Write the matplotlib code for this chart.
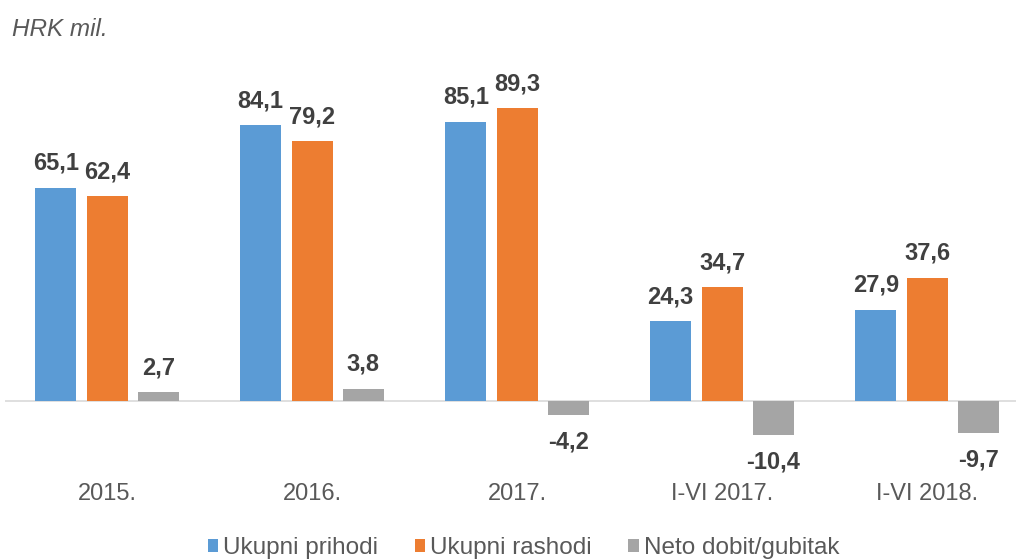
import numpy as np
import matplotlib.pyplot as plt

plt.rcParams['font.family'] = ['Liberation Sans', 'DejaVu Sans']

# podaci
kategorije = ["2015.", "2016.", "2017.", "I-VI 2017.", "I-VI 2018."]
prihodi = [65.1, 84.1, 85.1, 24.3, 27.9]
rashodi = [62.4, 79.2, 89.3, 34.7, 37.6]
neto = [2.7, 3.8, -4.2, -10.4, -9.7]
serije = ["Ukupni prihodi", "Ukupni rashodi", "Neto dobit/gubitak"]
boje = ["#5B9BD5", "#ED7D31", "#A5A5A5"]

fig = plt.figure(figsize=(10.16, 5.6), dpi=100)
ax = fig.add_axes([4.5 / 1016, 0.196, 1025 / 1016, 0.6736])

x = np.arange(len(kategorije))
sirina = 0.2
pomak = 0.25

for i, (vals, ime, boja) in enumerate(zip([prihodi, rashodi, neto], serije, boje)):
    pos = x + (i - 1) * pomak
    ax.bar(pos, vals, width=sirina, color=boja, label=ime, zorder=2)
    for px, v in zip(pos, vals):
        txt = f"{v:.1f}".replace(".", ",")
        if v >= 0:
            ax.annotate(txt, (px, v), xytext=(0, 13), textcoords="offset points",
                        ha="center", va="baseline", fontsize=17, fontweight="bold",
                        color="#404040")
        else:
            ax.annotate(txt, (px, v), xytext=(0, -11), textcoords="offset points",
                        ha="center", va="top", fontsize=17, fontweight="bold",
                        color="#404040")

ax.axhline(0, color="#D9D9D9", lw=1.2, zorder=1)
ax.set_xlim(-0.5, len(kategorije) - 0.5)
ax.set_ylim(-15, 100)
ax.axis("off")

for xi, k in zip(x, kategorije):
    ax.text(xi, -28.3, k, ha="center", va="center", fontsize=17, color="#595959")

fig.text(12 / 1016, 1 - 29 / 560, "HRK mil.", fontsize=17.5, style="italic",
         color="#595959", ha="left", va="center")

fig.legend(loc="center", bbox_to_anchor=(523.5 / 1016, 1 - 548 / 560), ncol=3, frameon=False,
           fontsize=17.5, handlelength=0.42, handleheight=0.42, handletextpad=0.22,
           columnspacing=1.5, labelcolor="#595959", borderpad=0, borderaxespad=0)

fig.savefig("out.png", dpi=100)
